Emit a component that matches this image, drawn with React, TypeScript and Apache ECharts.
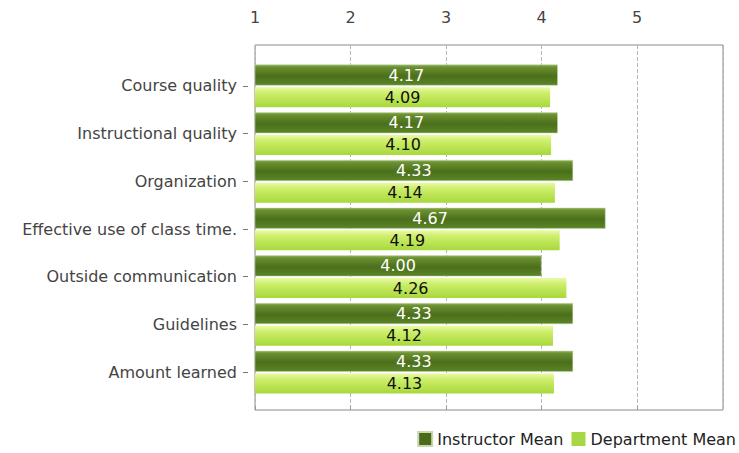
import React, { useEffect, useRef } from "react";
import * as echarts from "echarts";

const categories = [
  "Course quality",
  "Instructional quality",
  "Organization",
  "Effective use of class time.",
  "Outside communication",
  "Guidelines",
  "Amount learned",
];
const instructorMean = [4.17, 4.17, 4.33, 4.67, 4.0, 4.33, 4.33];
const departmentMean = [4.09, 4.1, 4.14, 4.19, 4.26, 4.12, 4.13];
const seriesNames = ["Instructor Mean", "Department Mean"];

const AXIS_MIN = 1;
const AXIS_MAX = 5.9;

export default function App() {
  const ref = useRef<HTMLDivElement>(null);
  useEffect(() => {
    if (!ref.current) return;
    const chart = echarts.init(ref.current, null, { renderer: "svg" });
    const font = "DejaVu Sans";
    const instrGrad = new echarts.graphic.LinearGradient(0, 0, 0, 1, [
      { offset: 0, color: "#8fb055" },
      { offset: 0.12, color: "#6a9030" },
      { offset: 0.55, color: "#4b6f1b" },
      { offset: 1, color: "#5b8526" },
    ]);
    const deptGrad = new echarts.graphic.LinearGradient(0, 0, 0, 1, [
      { offset: 0, color: "#eaf9a8" },
      { offset: 0.3, color: "#cdee6a" },
      { offset: 1, color: "#a8d83c" },
    ]);
    chart.setOption({
      animation: false,
      backgroundColor: "#ffffff",
      textStyle: { fontFamily: font },
      grid: [
        {
          left: 255,
          right: 16,
          top: 45,
          bottom: 43,
          show: true,
          borderColor: "#8a8a8a",
          borderWidth: 1,
          backgroundColor: "#ffffff",
        },
        { left: 255, right: 16, top: 62, bottom: 57 },
      ],
      xAxis: [
        {
          gridIndex: 0,
          type: "value",
          position: "top",
          min: AXIS_MIN,
          max: AXIS_MAX,
          interval: 1,
          offset: 8,
          axisLine: { show: false },
          axisTick: { show: true, length: 5, lineStyle: { color: "#999", type: "dashed" } },
          axisLabel: {
            color: "#444",
            fontSize: 16,
            fontFamily: font,
            margin: 12,
            showMaxLabel: false,
            formatter: (v: number) => (Number.isInteger(v) ? String(v) : ""),
          },
          splitLine: { show: true, lineStyle: { color: "#b5b5b5", type: "dashed", width: 1 } },
        },
        {
          gridIndex: 1,
          type: "value",
          min: AXIS_MIN,
          max: AXIS_MAX,
          show: false,
        },
      ],
      yAxis: [
        { gridIndex: 0, type: "value", show: false },
        {
          gridIndex: 1,
          type: "category",
          inverse: true,
          data: categories,
          offset: 7,
          axisLine: { show: false },
          axisTick: { show: true, alignWithLabel: true, length: 5, lineStyle: { color: "#777" } },
          axisLabel: { color: "#444", fontSize: 16, fontFamily: font, margin: 11 },
          splitLine: { show: false },
        },
      ],
      legend: {
        right: 3,
        top: 431,
        padding: 0,
        itemWidth: 14,
        itemHeight: 14,
        itemGap: 8,
        icon: "rect",
        textStyle: { color: "#222", fontSize: 16, fontFamily: font },
        data: [
          { name: seriesNames[0], itemStyle: { color: "#4a6b1a" } },
          { name: seriesNames[1], itemStyle: { color: "#a6d846" } },
        ],
      },
      series: [
        {
          name: seriesNames[0],
          type: "bar",
          xAxisIndex: 1,
          yAxisIndex: 1,
          data: instructorMean,
          barWidth: 21,
          barGap: "8%",
          itemStyle: { color: instrGrad, borderColor: "#c9d6b0", borderWidth: 0.5 },
          label: {
            show: true,
            position: "inside",
            color: "#ffffff",
            fontSize: 16,
            fontFamily: font,
            formatter: (p: any) => Number(p.value).toFixed(2),
          },
        },
        {
          name: seriesNames[1],
          type: "bar",
          xAxisIndex: 1,
          yAxisIndex: 1,
          data: departmentMean,
          barWidth: 20,
          itemStyle: { color: deptGrad },
          label: {
            show: true,
            position: "inside",
            color: "#111111",
            fontSize: 16,
            fontFamily: font,
            formatter: (p: any) => Number(p.value).toFixed(2),
          },
        },
      ],
    });
    return () => chart.dispose();
  }, []);
  return <div ref={ref} style={{ width: 739, height: 453, position: "absolute", left: 0, top: 0 }} />;
}
